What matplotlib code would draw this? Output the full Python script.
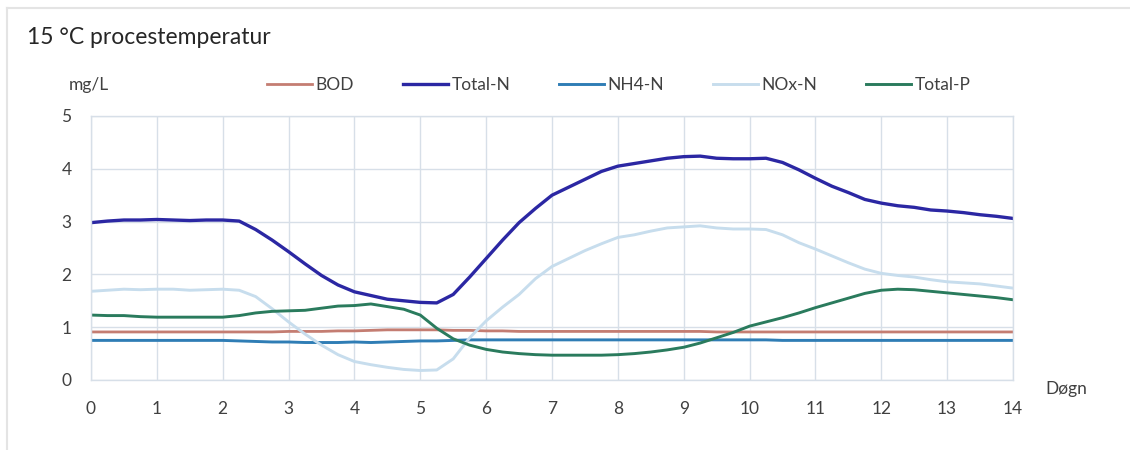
import numpy as np
import matplotlib

matplotlib.use("Agg")
import matplotlib.pyplot as plt
from matplotlib.lines import Line2D

plt.rcParams["font.family"] = ["Lato", "DejaVu Sans"]

# data (one value per quarter day)
days = np.arange(0, 14.01, 0.25)

bod = [0.91, 0.91, 0.91, 0.91, 0.91, 0.91, 0.91, 0.91, 0.91, 0.91, 0.91, 0.91,
       0.92, 0.92, 0.92, 0.93, 0.93, 0.94, 0.95, 0.95, 0.95, 0.95, 0.94, 0.94,
       0.93, 0.93, 0.92, 0.92, 0.92, 0.92, 0.92, 0.92, 0.92, 0.92, 0.92, 0.92,
       0.92, 0.92, 0.91, 0.91, 0.91, 0.91, 0.91, 0.91, 0.91, 0.91, 0.91, 0.91,
       0.91, 0.91, 0.91, 0.91, 0.91, 0.91, 0.91, 0.91, 0.91]

total_n = [2.98, 3.01, 3.03, 3.03, 3.04, 3.03, 3.02, 3.03, 3.03, 3.01, 2.85, 2.65,
           2.43, 2.20, 1.98, 1.80, 1.67, 1.60, 1.53, 1.50, 1.47, 1.46, 1.62, 1.95,
           2.30, 2.65, 2.98, 3.25, 3.50, 3.65, 3.80, 3.95, 4.05, 4.10, 4.15, 4.20,
           4.23, 4.24, 4.20, 4.19, 4.19, 4.20, 4.12, 3.98, 3.82, 3.67, 3.55, 3.42,
           3.35, 3.30, 3.27, 3.22, 3.20, 3.17, 3.13, 3.10, 3.06]

nh4_n = [0.75, 0.75, 0.75, 0.75, 0.75, 0.75, 0.75, 0.75, 0.75, 0.74, 0.73, 0.72,
         0.72, 0.71, 0.71, 0.71, 0.72, 0.71, 0.72, 0.73, 0.74, 0.74, 0.75, 0.76,
         0.76, 0.76, 0.76, 0.76, 0.76, 0.76, 0.76, 0.76, 0.76, 0.76, 0.76, 0.76,
         0.76, 0.76, 0.76, 0.76, 0.76, 0.76, 0.75, 0.75, 0.75, 0.75, 0.75, 0.75,
         0.75, 0.75, 0.75, 0.75, 0.75, 0.75, 0.75, 0.75, 0.75]

nox_n = [1.68, 1.70, 1.72, 1.71, 1.72, 1.72, 1.70, 1.71, 1.72, 1.70, 1.58, 1.35,
         1.10, 0.87, 0.66, 0.48, 0.35, 0.29, 0.24, 0.20, 0.18, 0.19, 0.40, 0.80,
         1.12, 1.38, 1.62, 1.92, 2.15, 2.30, 2.45, 2.58, 2.70, 2.75, 2.82, 2.88,
         2.90, 2.92, 2.88, 2.86, 2.86, 2.85, 2.75, 2.60, 2.48, 2.35, 2.22, 2.10,
         2.02, 1.98, 1.95, 1.90, 1.86, 1.84, 1.82, 1.78, 1.74]

total_p = [1.23, 1.22, 1.22, 1.20, 1.19, 1.19, 1.19, 1.19, 1.19, 1.22, 1.27, 1.30,
           1.31, 1.32, 1.36, 1.40, 1.41, 1.44, 1.39, 1.34, 1.23, 0.98, 0.78, 0.66,
           0.58, 0.53, 0.50, 0.48, 0.47, 0.47, 0.47, 0.47, 0.48, 0.50, 0.53, 0.57,
           0.62, 0.70, 0.80, 0.90, 1.02, 1.10, 1.18, 1.27, 1.37, 1.46, 1.55, 1.64,
           1.70, 1.72, 1.71, 1.68, 1.65, 1.62, 1.59, 1.56, 1.52]

series = [
    ("BOD", bod, "#C47D72", 2.0),
    ("Total-N", total_n, "#2B27A3", 2.4),
    ("NH4-N", nh4_n, "#2F7DB5", 2.1),
    ("NOx-N", nox_n, "#C7DDED", 2.1),
    ("Total-P", total_p, "#2A7B5D", 2.1),
]

W, H = 1130, 450
fig = plt.figure(figsize=(W / 100, H / 100), dpi=100)
ax = fig.add_axes([91 / W, 1 - 380 / H, (1013 - 91) / W, (380 - 116) / H])

grid_col = "#D7DFE8"
for name, vals, col, lw in series:
    ax.plot(days, vals, color=col, lw=lw, label=name, solid_joinstyle="round")

ax.set_xlim(0, 14)
ax.set_ylim(0, 5)
ax.set_xticks(range(0, 15))
ax.set_yticks(range(0, 6))
ax.grid(True, color=grid_col, lw=1.0)
ax.set_axisbelow(True)
for sp in ax.spines.values():
    sp.set_color(grid_col)
    sp.set_linewidth(1.0)
ax.tick_params(length=0, labelsize=12.5, colors="#404040")
ax.tick_params(axis="y", pad=14)
ax.tick_params(axis="x", pad=15)

fig.text(27 / W, 1 - 37 / H, "15 °C procestemperatur", fontsize=16.5,
         color="#262626", ha="left", va="center")
fig.text(69 / W, 1 - 85 / H, "mg/L", fontsize=12.5, color="#404040",
         ha="left", va="center")
fig.text(1045 / W, 1 - 389 / H, "Døgn", fontsize=12.5, color="#404040",
         ha="left", va="center")

fig.legend(loc="center left", bbox_to_anchor=(267 / W, 1 - 85 / H), ncol=5,
           frameon=False, fontsize=12.5, handlelength=2.6, handletextpad=0.2,
           columnspacing=2.8, borderpad=0, borderaxespad=0, labelcolor="#404040")

# light outer frame (top and left edge)
frame_col = "#E4E4E4"
fig.add_artist(Line2D([7 / W, 1], [1 - 8 / H, 1 - 8 / H], color=frame_col, lw=1.5,
                      transform=fig.transFigure))
fig.add_artist(Line2D([7 / W, 7 / W], [0, 1 - 8 / H], color=frame_col, lw=1.5,
                      transform=fig.transFigure))

fig.savefig("out.png", dpi=100)
